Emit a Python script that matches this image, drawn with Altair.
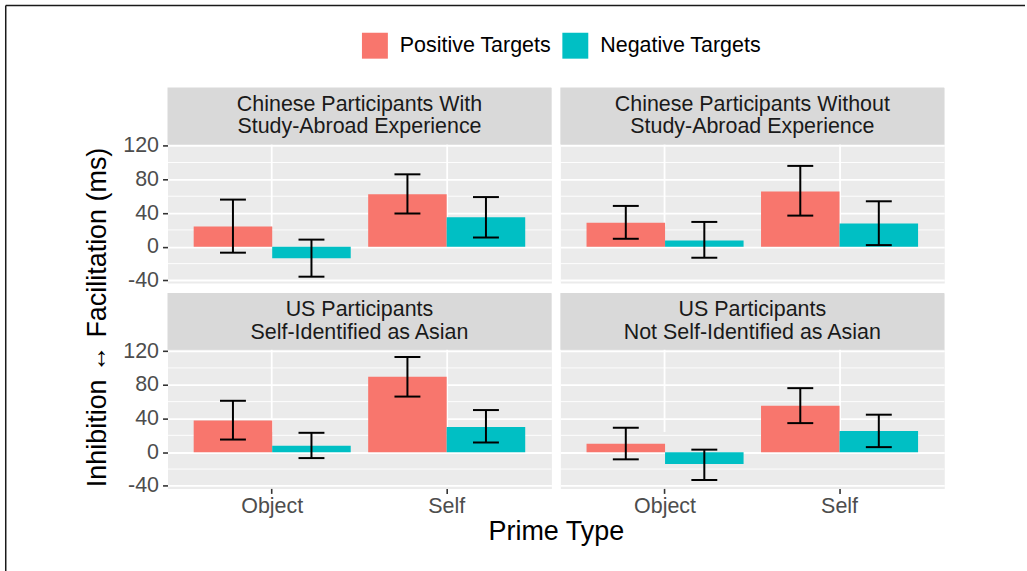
import altair as alt
import pandas as pd

panel_labels = [
    "Chinese Participants With\nStudy-Abroad Experience",
    "Chinese Participants Without\nStudy-Abroad Experience",
    "US Participants\nSelf-Identified as Asian",
    "US Participants\nNot Self-Identified as Asian",
]
prime_types = ["Object", "Self"]
target_types = ["Positive Targets", "Negative Targets"]
# order in each panel: Object/Positive, Object/Negative, Self/Positive, Self/Negative
means = [
    [24, -13.5, 62.5, 35],
    [28.5, 7.5, 65.5, 27.5],
    [37.5, 7.5, 89.5, 30],
    [10, -14, 55, 25],
]
lowers = [
    [-7, -35.5, 39.5, 11],
    [9.5, -13, 37, 2],
    [15, -7, 66, 11.5],
    [-8.5, -33, 34.5, 6],
]
uppers = [
    [56, 8.5, 86, 59],
    [48.5, 29.5, 96, 54],
    [61, 23, 113, 50],
    [29, 3, 76, 44.5],
]
y_major = [-40, 0, 40, 80, 120]
y_minor = [-20, 20, 60, 100]
colors = ["#F8766D", "#00BFC4"]

FONT = "Liberation Sans"
FS = 21.5
W = 385
STRIP = 57
PLOT_H = 139
H = STRIP + PLOT_H

minor_df = pd.DataFrame({"v": y_minor})


def panel_df(i):
    rows = []
    k = 0
    for p in prime_types:
        for t in target_types:
            rows.append({"prime": p, "target": t, "mean": means[i][k],
                         "lo": lowers[i][k], "hi": uppers[i][k]})
            k += 1
    return pd.DataFrame(rows)


def make_panel(i, show_x, show_y, legend, ytitle, xtitle, frame=False):
    df = panel_df(i)
    strip_df = pd.DataFrame({"label": [panel_labels[i]]})

    yscale = alt.Scale(domain=[-43, 121.5], range=[H, STRIP], nice=False, zero=False)
    yaxis_kw = dict(values=y_major, grid=True, labels=show_y, ticks=show_y,
                    labelExpr="'' + datum.value")
    if ytitle:
        yaxis_kw.update(title=ytitle, titleX=-62, titleY=24, titleAngle=270,
                        titleAlign="center", titleBaseline="alphabetic",
                        titleFontSize=27, titleColor="black", titleFontWeight="normal",
                        titleFont=FONT)
    else:
        yaxis_kw.update(title=None)
    yaxis = alt.Axis(**yaxis_kw)

    xaxis_kw = dict(labels=show_x, ticks=show_x, labelAngle=0, bandPosition=0.5, grid=True,
                    labelPadding=2)
    if xtitle:
        xaxis_kw.update(title=xtitle, titleX=389.5, titleY=51, titleAlign="center",
                        titleBaseline="alphabetic", titleFontSize=27, titleColor="black",
                        titleFontWeight="normal", titleFont=FONT)
    else:
        xaxis_kw.update(title=None)
    xaxis = alt.Axis(**xaxis_kw)

    xscale = alt.Scale(domain=prime_types, paddingInner=0.1, paddingOuter=0.15)
    x = alt.X("prime:N", scale=xscale, axis=xaxis)
    xo = alt.XOffset("target:N", scale=alt.Scale(domain=target_types, paddingInner=0, paddingOuter=0))

    if legend:
        leg = alt.Legend(orient="none", legendX=195, legendY=-55, direction="horizontal",
                         title=None, symbolType="square", symbolSize=676, symbolStrokeWidth=0,
                         labelFontSize=FS, labelFont=FONT, labelColor="black",
                         labelOffset=12, columnPadding=11, labelLimit=0)
    else:
        leg = None
    color = alt.Color("target:N", scale=alt.Scale(domain=target_types, range=colors), legend=leg)

    minor = alt.Chart(minor_df).mark_rule(color="white", strokeWidth=0.9).encode(
        y=alt.Y("v:Q", scale=yscale, axis=yaxis)
    )
    bars = alt.Chart(df).mark_bar().encode(
        x=x, xOffset=xo, y=alt.Y("mean:Q", scale=yscale, axis=yaxis), color=color
    )
    err = alt.Chart(df).mark_rule(color="black", strokeWidth=2).encode(
        x=x, xOffset=xo, y=alt.Y("lo:Q", scale=yscale, axis=yaxis), y2="hi:Q"
    )
    cap_lo = alt.Chart(df).mark_tick(color="black", size=26, thickness=2, opacity=1).encode(
        x=x, xOffset=xo, y=alt.Y("lo:Q", scale=yscale, axis=yaxis)
    )
    cap_hi = alt.Chart(df).mark_tick(color="black", size=26, thickness=2, opacity=1).encode(
        x=x, xOffset=xo, y=alt.Y("hi:Q", scale=yscale, axis=yaxis)
    )
    strip_rect = alt.Chart(strip_df).mark_rect(color="#D9D9D9").encode(
        x=alt.value(0), x2=alt.value(W), y=alt.value(0), y2=alt.value(STRIP)
    )
    strip_text = alt.Chart(strip_df).mark_text(
        lineBreak="\n", fontSize=FS, font=FONT, color="#1A1A1A", lineHeight=23,
        align="center", baseline="middle"
    ).encode(x=alt.value(W / 2), y=alt.value(17), text="label:N")

    layers = [minor, bars, err, cap_lo, cap_hi, strip_rect, strip_text]
    if frame:
        # thin border along the top and left edges of the picture
        frame_top = alt.Chart(strip_df).mark_rule(color="#1A1A1A", strokeWidth=1.5).encode(
            x=alt.value(-162.25), x2=alt.value(860), y=alt.value(-82.25)
        )
        frame_left = alt.Chart(strip_df).mark_rule(color="#1A1A1A", strokeWidth=1.5).encode(
            x=alt.value(-162.25), y=alt.value(-82.25), y2=alt.value(485)
        )
        layers += [frame_top, frame_left]

    return alt.layer(*layers).properties(width=W, height=H)


A = make_panel(0, False, True, True, None, None, frame=True)
B = make_panel(1, False, False, False, None, None)
C = make_panel(2, True, True, False, "Inhibition \u2194 Facilitation (ms)", "Prime Type")
D = make_panel(3, True, False, False, None, None)

chart = alt.concat(
    A, B, C, D, columns=2, spacing=alt.RowColnumber(row=10, column=9), bounds="flush"
).resolve_scale(color="independent").properties(
    padding={"left": 4, "top": 3, "right": 0, "bottom": 0}
).configure(font=FONT).configure_axis(
    gridColor="white", gridWidth=1.8, domain=False, tickColor="#333333", tickWidth=1.6,
    tickSize=5, labelFontSize=FS, labelColor="#4D4D4D", labelFont=FONT, labelPadding=4
).configure_view(fill="#EBEBEB", stroke="transparent")

chart.save("out.html", embed_options={"renderer": "svg", "actions": False})
